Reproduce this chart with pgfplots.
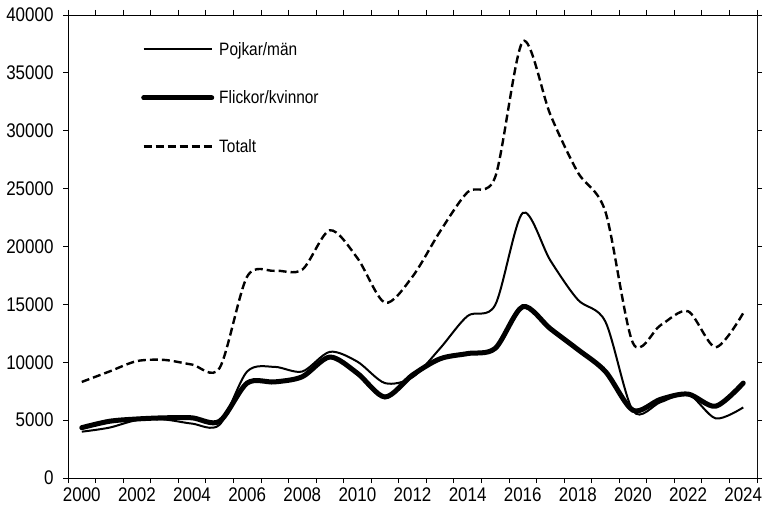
\documentclass[border=0pt]{standalone}
\usepackage{fontspec}
\setmainfont{Liberation Sans}[FakeStretch=0.86]
\usepackage{pgfplots}
\usepackage{pgfplotstable}
\pgfplotsset{compat=1.18}

% year, boys/men, girls/women, total
\pgfplotstableread{
year pojk flick tot
2000 4000 4350 8300
2001 4350 4900 9200
2002 5000 5100 10100
2003 5050 5200 10200
2004 4700 5200 9800
2005 4600 4900 9500
2006 9200 8200 17400
2007 9600 8300 17900
2008 9200 8750 18000
2009 10900 10450 21400
2010 10050 9050 19000
2011 8200 7000 15150
2012 8700 8900 17400
2013 11200 10300 21300
2014 14000 10750 24700
2015 14950 11200 26000
2016 22900 14800 37700
2017 18800 12900 31400
2018 15400 11100 26400
2019 13500 9200 23000
2020 5800 5850 11650
2021 6550 6800 13200
2022 7250 7250 14400
2023 5150 6200 11300
2024 6100 8200 14250
}\data

\begin{document}
\begin{tikzpicture}
\begin{axis}[
scale only axis,
width=689bp, height=463bp,
xmin=1999.5, xmax=2024.5,
ymin=0, ymax=40000,
xtick={1999.5,2000.5,...,2024.5},
xticklabels={2000,{},2002,{},2004,{},2006,{},2008,{},2010,{},2012,{},2014,{},2016,{},2018,{},2020,{},2022,{},2024,{}},
xticklabel style={xshift=13.78bp, yshift=-1bp},
ytick={0,5000,...,40000},
yticklabel style={xshift=-6bp},
scaled y ticks=false,
/pgf/number format/1000 sep={},
/pgf/number format/assume math mode=true,
tick align=outside,
major tick length=5bp,
tick style={black, line width=0.8bp},
axis line style={line width=0.8bp},
ticklabel style={font=\fontsize{19.8}{22}\selectfont},
legend cell align=left,
legend image code/.code={\draw[#1] (0bp,0bp) -- (68bp,0bp);},
legend style={draw=none, fill=none, at={(0.106,0.946)}, anchor=north west,
  font=\fontsize{18}{21}\selectfont, row sep=30bp, inner sep=0pt},
]
\addplot[black, line width=2bp, smooth] table[x=year, y=pojk] {\data};
\addlegendentry{\hspace{3bp}Pojkar/män}
\addplot[black, line width=5bp, line cap=round, smooth] table[x=year, y=flick] {\data};
\addlegendentry{\hspace{3bp}Flickor/kvinnor}
\addplot[black, line width=2.4bp, dash pattern=on 8bp off 4bp, smooth] table[x=year, y=tot] {\data};
\addlegendentry{\hspace{3bp}Totalt}
\draw[gray, line width=0.8bp] (rel axis cs:1,0) -- (rel axis cs:1,1);
\coordinate (bl) at (rel axis cs:-0.0987,-0.0778);
\coordinate (tr) at (rel axis cs:1.0116,1.0324);
\end{axis}
\pgfresetboundingbox
\useasboundingbox (bl) rectangle (tr);
\end{tikzpicture}
\end{document}
